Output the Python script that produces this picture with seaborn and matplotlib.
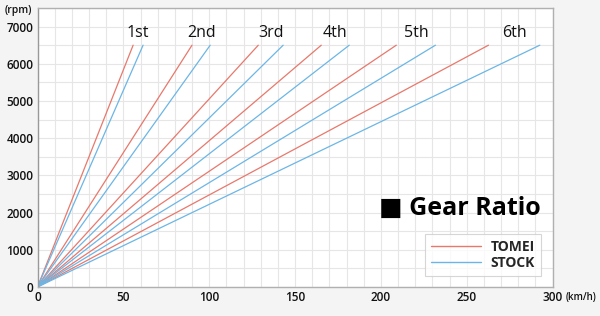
import matplotlib
matplotlib.use("Agg")
import matplotlib.pyplot as plt
import seaborn as sns
import pandas as pd
import numpy as np
from matplotlib.ticker import MultipleLocator

gears = ["1st", "2nd", "3rd", "4th", "5th", "6th"]
tomei_speed = [55.7, 90.0, 128.6, 165.3, 209.0, 262.7]
stock_speed = [61.5, 100.6, 143.1, 181.6, 231.8, 292.6]
rpm_top = 6500
series = ["TOMEI", "STOCK"]
colors = {"TOMEI": "#e8786c", "STOCK": "#6cb6e6"}
x_ticks = [0, 50, 100, 150, 200, 250, 300]
y_ticks = [0, 1000, 2000, 3000, 4000, 5000, 6000, 7000]

rows = []
for name, speeds in zip(series, [tomei_speed, stock_speed]):
    for g, s in zip(gears, speeds):
        rows.append({"series": name, "gear": g, "speed": 0.0, "rpm": 0.0})
        rows.append({"series": name, "gear": g, "speed": s, "rpm": float(rpm_top)})
df = pd.DataFrame(rows)

sns.set_theme(style="white")
plt.rcParams["font.family"] = ["Open Sans", "DejaVu Sans"]

fig = plt.figure(figsize=(6.0, 3.16), dpi=100, facecolor="#f4f4f4")
ax = fig.add_axes([37.5/600, 1-287/316, (552.5-37.5)/600, (287-8)/316])
ax.set_facecolor("white")

sns.lineplot(data=df, x="speed", y="rpm", hue="series", units="gear",
             estimator=None, palette=colors, linewidth=0.9, ax=ax,
             hue_order=series, sort=False)

for g, a, b in zip(gears, tomei_speed, stock_speed):
    ax.text((a + b) / 2, 6820, g, ha="center", va="center", fontsize=11.5,
            color="#111111")

ax.set_xlim(0, 300)
ax.set_ylim(0, 7500)
ax.set_xticks(x_ticks)
ax.set_yticks(y_ticks)
ax.xaxis.set_minor_locator(MultipleLocator(10))
ax.yaxis.set_minor_locator(MultipleLocator(500))
ax.grid(True, which="both", color="#e6e6e6", linewidth=0.8)
ax.set_axisbelow(True)
ax.tick_params(axis="both", which="both", length=0, labelsize=8.5, pad=3,
               labelcolor="#111111")
for lab in ax.get_xticklabels() + ax.get_yticklabels():
    lab.set_fontweight("semibold")
ax.set_xlabel("")
ax.set_ylabel("")
for side, sp in ax.spines.items():
    sp.set_visible(True)
    sp.set_color("#b0b0b0")
    sp.set_linewidth(1.0)
ax.spines["left"].set_color("#999999")

fig.text(5/600, 1-11/316, "(rpm)", fontsize=7.5, fontweight="semibold",
         ha="left", va="center", color="#111111")
fig.text(566/600, 1-298/316, "(km/h)", fontsize=7, fontweight="semibold",
         ha="left", va="center", color="#111111")

ax.text(0.663, 0.283, "\u25a0 Gear Ratio", transform=ax.transAxes, fontsize=18,
        fontweight="bold", ha="left", va="center", color="#000000")

leg = ax.legend(loc="lower right", bbox_to_anchor=(0.978, 0.04), frameon=True,
                fontsize=10, handlelength=3.6, handletextpad=0.7,
                borderpad=0.45, labelspacing=0.1, fancybox=False,
                borderaxespad=0)
leg.get_frame().set_edgecolor("#cccccc")
leg.get_frame().set_linewidth(0.8)
for t in leg.get_texts():
    t.set_fontweight("bold")
for h in leg.get_lines():
    h.set_linewidth(1.0)

fig.savefig("out.png", dpi=100, facecolor=fig.get_facecolor())
